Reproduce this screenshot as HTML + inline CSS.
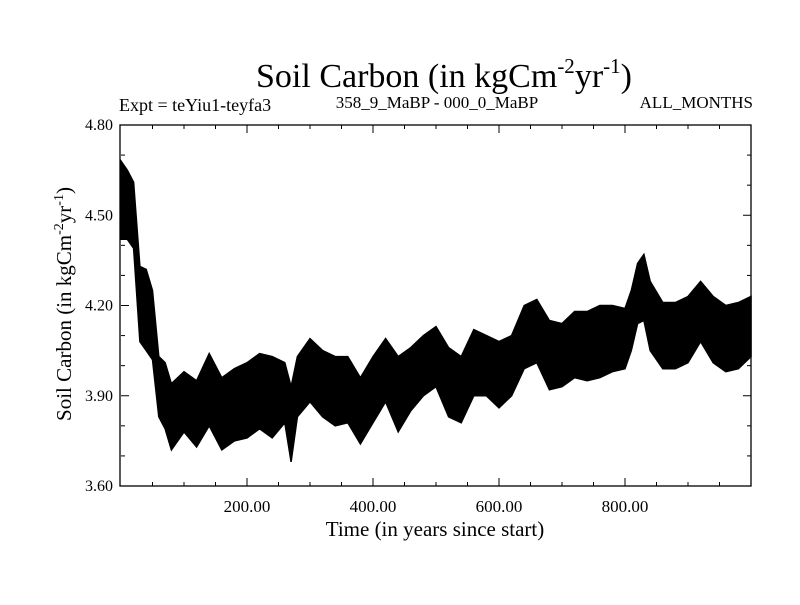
<!DOCTYPE html>
<html><head><meta charset="utf-8"><style>
body{margin:0;background:#fff;}
svg text{font-family:"Liberation Serif",serif;fill:#000;}
</style></head><body>
<svg width="800" height="600" xmlns="http://www.w3.org/2000/svg">
<rect width="800" height="600" fill="#fff"/>
<text x="444" y="87" font-size="34" text-anchor="middle">Soil Carbon (in kgCm<tspan font-size="21" dy="-14">-2</tspan><tspan dy="14">yr</tspan><tspan font-size="21" dy="-14">-1</tspan><tspan dy="14">)</tspan></text>
<text x="119" y="111" font-size="18">Expt = teYiu1-teyfa3</text>
<text x="437" y="108" font-size="17" text-anchor="middle">358_9_MaBP - 000_0_MaBP</text>
<text x="753" y="108" font-size="17" text-anchor="end">ALL_MONTHS</text>
<g id="plot"></g>
<text x="435" y="536" font-size="21" text-anchor="middle">Time (in years since start)</text>
<text transform="translate(71,304) rotate(-90)" font-size="21" text-anchor="middle">Soil Carbon (in kgCm<tspan font-size="14" dy="-8">-2</tspan><tspan dy="8">yr</tspan><tspan font-size="14" dy="-8">-1</tspan><tspan dy="8">)</tspan></text>
</svg>
<script>
const years=[0,10,20,30,40,50,60,70,80,100,120,140,160,180,200,220,240,260,270,280,300,320,340,360,380,400,420,440,460,480,500,520,540,560,580,600,620,640,660,680,700,720,740,760,780,800,810,820,830,840,860,880,900,920,940,960,980,1000];
const upper=[4.68,4.65,4.61,4.33,4.32,4.25,4.03,4.01,3.94,3.98,3.95,4.04,3.96,3.99,4.01,4.04,4.03,4.01,3.93,4.03,4.09,4.05,4.03,4.03,3.96,4.03,4.09,4.03,4.06,4.10,4.13,4.06,4.03,4.12,4.10,4.08,4.10,4.20,4.22,4.15,4.14,4.18,4.18,4.20,4.20,4.19,4.25,4.34,4.37,4.28,4.21,4.21,4.23,4.28,4.23,4.20,4.21,4.23];
const lower=[4.42,4.42,4.39,4.08,4.05,4.02,3.83,3.79,3.72,3.78,3.73,3.80,3.72,3.75,3.76,3.79,3.76,3.81,3.68,3.83,3.88,3.83,3.80,3.81,3.74,3.81,3.88,3.78,3.85,3.90,3.93,3.83,3.81,3.90,3.90,3.86,3.90,3.99,4.01,3.92,3.93,3.96,3.95,3.96,3.98,3.99,4.05,4.14,4.15,4.05,3.99,3.99,4.01,4.08,4.01,3.98,3.99,4.03];
const xTicks=[200,400,600,800];
const xTickLabels=["200.00","400.00","600.00","800.00"];
const yTicks=[3.6,3.9,4.2,4.5,4.8];
const yTickLabels=["3.60","3.90","4.20","4.50","4.80"];
const L=121,R=751,T=125,B=486,X0=0,X1=1000,Y0=3.6,Y1=4.8;
const sx=v=>L+(v-X0)/(X1-X0)*(R-L);
const sy=v=>B-(v-Y0)/(Y1-Y0)*(B-T);
const NS='http://www.w3.org/2000/svg';
const g=document.getElementById('plot');
function mk(tag,attrs){const e=document.createElementNS(NS,tag);for(const k in attrs)e.setAttribute(k,attrs[k]);g.appendChild(e);return e;}
let d='';
years.forEach((y,i)=>{d+=(i?'L':'M')+sx(y).toFixed(1)+','+sy(upper[i]).toFixed(1);});
for(let i=years.length-1;i>=0;i--){d+='L'+sx(years[i]).toFixed(1)+','+sy(lower[i]).toFixed(1);}
d+='Z';
const band=mk('path',{d:d,fill:'#000',stroke:'#000','stroke-width':1.5,'stroke-linejoin':'miter'});


const frame=mk('rect',{x:L-1,y:T,width:R-L+1,height:B-T,fill:'none',stroke:'#000','stroke-width':1.3});


for(let v=50;v<X1;v+=50){
  const major=v%200===0;const x=sx(v);const len=major?8:4;
  const t1=mk('line',{x1:x,x2:x,y1:B,y2:B-len,stroke:'#000','stroke-width':1});
  
  
  const t2=mk('line',{x1:x,x2:x,y1:T,y2:T+len,stroke:'#000','stroke-width':1});
  
  
}
xTicks.forEach((v,i)=>{const t=mk('text',{x:sx(v),y:B+26,'font-size':17,'text-anchor':'middle'});t.textContent=xTickLabels[i];

});
for(let k=1;k<12;k++){
  const v=Y0+k*0.1;const major=k%3===0;const y=sy(v);const len=major?8:4;
  const t1=mk('line',{x1:L,x2:L+len,y1:y,y2:y,stroke:'#000','stroke-width':1});
  
  
  const t2=mk('line',{x1:R,x2:R-len,y1:y,y2:y,stroke:'#000','stroke-width':1});
  
  
}
yTicks.forEach((v,i)=>{const t=mk('text',{x:L-8,y:sy(v)+5,'font-size':16,'text-anchor':'end'});t.textContent=yTickLabels[i];

});
</script>
</body></html>
